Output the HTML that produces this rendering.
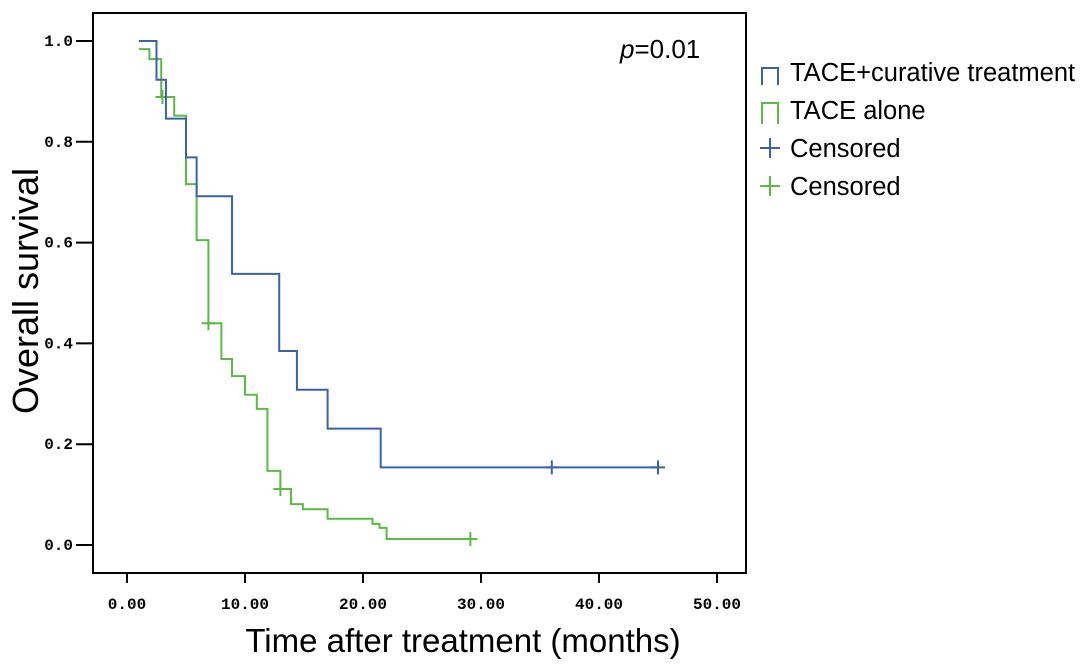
<!DOCTYPE html>
<html><head><meta charset="utf-8"><style>
body{margin:0;background:#fff;}
svg{display:block;}
text{font-family:"Liberation Sans",sans-serif;}
.tick{font-family:"Liberation Mono",monospace;font-weight:bold;font-size:16px;}
</style></head><body>
<svg id="chart" width="1087" height="669">
<rect x="93" y="13" width="653" height="560" fill="none" stroke="#000" stroke-width="2"/>
<g id="axes"></g>
<g id="series"></g>
<text x="38" y="291" font-size="36" text-anchor="middle" transform="rotate(-90 38 291)">Overall survival</text>
<text x="463" y="652" font-size="33" text-anchor="middle">Time after treatment (months)</text>
<text x="620" y="58" font-size="26"><tspan font-style="italic">p</tspan>=0.01</text>
<g>
<g><path d="M762 85 V68 H778 V85" fill="none" stroke="#3a62a8" stroke-width="2"/><text x="790" y="81" font-size="25.5">TACE+curative treatment</text></g>
<g><path d="M762 124 V103 H778 V124" fill="none" stroke="#5cb946" stroke-width="2"/><text x="790" y="119" font-size="25.5">TACE alone</text></g>
<g><path d="M760 148 H780 M770 138 V158" stroke="#3a62a8" stroke-width="2"/><text x="790" y="157" font-size="25.5">Censored</text></g>
<g><path d="M760 186 H780 M770 176 V196" stroke="#5cb946" stroke-width="2"/><text x="790" y="195" font-size="25.5">Censored</text></g>
</g>
</svg>
<script>
const xTicks=[0,10,20,30,40,50];
const xTickLabels=["0.00","10.00","20.00","30.00","40.00","50.00"];
const yTicks=[0,0.2,0.4,0.6,0.8,1.0];
const yTickLabels=["0.0","0.2","0.4","0.6","0.8","1.0"];
const blueTimes=[1.0,2.5,3.3,5.0,5.9,8.9,12.9,14.4,17.0,21.5,45.0];
const blueSurv=[1.0,0.923,0.846,0.769,0.692,0.538,0.385,0.308,0.231,0.154,0.154];
const blueCensorTimes=[36.0,45.0];
const greenTimes=[1.0,1.9,2.9,4.0,5.0,5.9,6.9,8.0,8.9,10.0,11.0,11.9,13.0,13.9,14.9,17.0,20.8,21.4,22.0,29.1];
const greenSurv=[0.984,0.964,0.889,0.852,0.716,0.605,0.440,0.369,0.335,0.298,0.270,0.147,0.111,0.081,0.071,0.052,0.042,0.034,0.012,0.012];
const greenCensorTimes=[3.0,6.9,13.0,29.1];
const NS="http://www.w3.org/2000/svg";
function sx(t){return 127+t*11.8;}
function sy(v){return 545-v*504;}
function mk(tag,attrs,parent){const e=document.createElementNS(NS,tag);for(const k in attrs)e.setAttribute(k,attrs[k]);parent.appendChild(e);return e;}
const axes=document.getElementById('axes');
xTicks.forEach((t,i)=>{
  const l=mk('line',{x1:sx(t),x2:sx(t),y1:573,y2:583,stroke:'#000','stroke-width':2},axes);
  
  
  const tx=mk('text',{x:sx(t),y:609,'text-anchor':'middle',class:'tick'},axes);
  tx.textContent=xTickLabels[i];
  
  
});
yTicks.forEach((v,i)=>{
  const l=mk('line',{x1:76,x2:93,y1:sy(v),y2:sy(v),stroke:'#000','stroke-width':2},axes);
  
  
  const tx=mk('text',{x:73,y:sy(v)+5,'text-anchor':'end',class:'tick'},axes);
  tx.textContent=yTickLabels[i];
  
  
});
const series=document.getElementById('series');
function stepPath(ts,vs){let d='M'+sx(ts[0])+' '+sy(vs[0]);for(let i=1;i<ts.length;i++){d+=' H'+sx(ts[i])+' V'+sy(vs[i]);}return d;}
function survAt(ts,vs,t){let v=vs[0];for(let i=0;i<ts.length;i++){if(ts[i]<=t+1e-9)v=vs[i];}return v;}
function drawSeries(ts,vs,cts,color,name){
  const p=mk('path',{d:stepPath(ts,vs),fill:'none',stroke:color,'stroke-width':2},series);
  
  
  cts.forEach(t=>{
    const x=sx(t),y=sy(survAt(ts,vs,t));
    const c=mk('path',{d:`M${x-7} ${y} H${x+7} M${x} ${y-7} V${y+7}`,stroke:color,'stroke-width':2},series);
    
    
  });
}
drawSeries(greenTimes,greenSurv,greenCensorTimes,'#5cb946','tace-alone');
drawSeries(blueTimes,blueSurv,blueCensorTimes,'#3a62a8','tace-curative');
</script>
</body></html>
